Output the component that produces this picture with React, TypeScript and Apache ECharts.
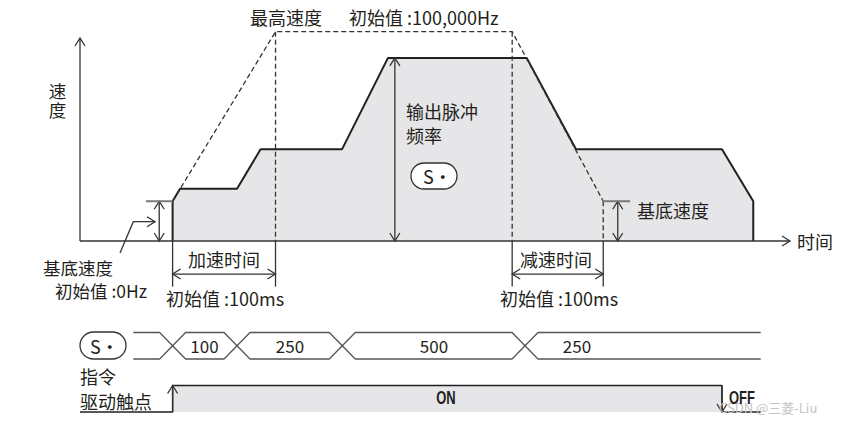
import React, { useEffect, useRef } from 'react';
import * as echarts from 'echarts';

const FONT = "'Noto Sans CJK SC', 'Noto Sans', sans-serif";
const NARROW = "'Liberation Sans', 'DejaVu Sans', sans-serif";

// ---- axes (time in ms, speed in Hz) ----
const timeMin = -90;
const timeMax = 600;
const speedTop = 97000;

// ---- output pulse frequency profile ----
const profileTime = [0, 0, 7.2, 62.6, 85.5, 164.6, 209.3, 344.1, 392.0, 533.9, 564.3, 564.3];
const profileSpeed = [0, 19000, 25000, 25000, 43800, 43800, 87500, 87500, 43800, 43800, 19000, 0];

// ---- max speed / base speed / acc & dec times ----
const baseSpeed = 19000;
const maxSpeed = 100000;
const accelEnd = 100;
const decelStart = 330;
const decelEnd = 418.5;
const maxSpeedTime = [0, accelEnd, decelStart, decelEnd];
const maxSpeedValue = [baseSpeed, maxSpeed, maxSpeed, baseSpeed];
const freqArrowTime = 216;
const freqArrowSpeed = 87500;
const baseArrowLeftTime = -13;
const baseArrowRightTime = 432.6;
const dimLineSpeed = -15800;
const extLineSpeed = -21800;

// ---- instruction bus (S·) ----
const busStart = -38.2;
const busEnd = 571.5;
const busCrossings = [0, 62.6, 164.9, 342.5];
const busLabels = ['100', '250', '500', '250'];
const busLabelTimes = [31, 114, 254, 393];

// ---- drive contact ----
const contactTime = [-90, 0, 0, 533.9, 533.9, 571.5];
const contactLevel = [0, 0, 1, 1, 0, 0];

type Guide = { pts: number[][]; s?: boolean; e?: boolean; dash?: boolean; tick?: boolean };

const guides0: Guide[] = [
  { pts: [[timeMin, 0], [timeMax, 0]], e: true },
  { pts: [[timeMin, 0], [timeMin, speedTop]], e: true },
  { pts: maxSpeedTime.map((t, i) => [t, maxSpeedValue[i]]), dash: true },
  { pts: [[accelEnd, maxSpeed], [accelEnd, 0]], dash: true },
  { pts: [[accelEnd, 0], [accelEnd, extLineSpeed]] },
  { pts: [[decelStart, maxSpeed], [decelStart, 0]], dash: true },
  { pts: [[decelStart, 0], [decelStart, extLineSpeed]] },
  { pts: [[decelEnd, baseSpeed], [decelEnd, 0]], dash: true },
  { pts: [[decelEnd, 0], [decelEnd, extLineSpeed]] },
  { pts: [[0, 0], [0, extLineSpeed]] },
  { pts: [[freqArrowTime, 0], [freqArrowTime, freqArrowSpeed]], s: true, e: true },
  { pts: [[baseArrowLeftTime, 0], [baseArrowLeftTime, baseSpeed]], s: true, e: true },
  { pts: [[-25.9, baseSpeed], [0, baseSpeed]], tick: true },
  { pts: [[baseArrowRightTime, 0], [baseArrowRightTime, baseSpeed]], s: true, e: true },
  { pts: [[decelEnd, baseSpeed], [444.6, baseSpeed]], tick: true },
  { pts: [[0, dimLineSpeed], [accelEnd, dimLineSpeed]], s: true, e: true },
  { pts: [[decelStart, dimLineSpeed], [decelEnd, dimLineSpeed]], s: true, e: true },
  { pts: [[-51.1, -5734], [-38.2, 9222], [-17.1, 9222]], e: true },
];

const guides1: Guide[] = [
  { pts: [[0, 0], [0, 1]], e: true },
  { pts: [[533.9, 1], [533.9, 0]], e: true },
];

const HALF_X = 12.6;
function busLine(level: number) {
  const pts: number[][] = [[busStart, level]];
  busCrossings.forEach((c) => {
    pts.push([c - HALF_X, level], [c, 2.5], [c + HALF_X, level]);
  });
  pts.push([busEnd, level]);
  return pts;
}

function guideSeries(specs: Guide[], idx: number) {
  return {
    type: 'custom',
    xAxisIndex: idx,
    yAxisIndex: idx,
    clip: false,
    silent: true,
    z: 4,
    data: specs.map((g, i) => [g.pts[0][0], g.pts[0][1], i]),
    encode: { x: 0, y: 1 },
    renderItem: (_p: any, api: any) => {
      const g = specs[api.value(2)];
      const p = g.pts.map((pt) => api.coord(pt));
      const stroke = g.tick ? '#7a7a7a' : '#333';
      const lw = g.tick ? 2 : 1.3;
      const children: any[] = [
        {
          type: 'polyline',
          shape: { points: p },
          style: { stroke, lineWidth: lw, fill: 'none', lineDash: g.dash ? [5, 3] : null },
        },
      ];
      const head = (tip: number[], from: number[]) => {
        const dx = tip[0] - from[0];
        const dy = tip[1] - from[1];
        const len = Math.sqrt(dx * dx + dy * dy) || 1;
        const ux = dx / len, uy = dy / len;
        const nx = -uy, ny = ux;
        const L = 8, W = 5;
        children.push({
          type: 'polyline',
          shape: {
            points: [
              [tip[0] - ux * L + nx * W, tip[1] - uy * L + ny * W],
              tip,
              [tip[0] - ux * L - nx * W, tip[1] - uy * L - ny * W],
            ],
          },
          style: { stroke: '#333', lineWidth: 1.3, fill: 'none' },
        });
      };
      if (g.e) head(p[p.length - 1], p[p.length - 2]);
      if (g.s) head(p[0], p[1]);
      return { type: 'group', children };
    },
  };
}

function txt(text: string, x: number, y: number, extra: any = {}, el: any = {}) {
  return {
    type: 'text',
    x,
    y,
    z: 20,
    ...el,
    style: {
      text,
      fontSize: 18,
      lineHeight: 18,
      fontFamily: FONT,
      fill: '#231f20',
      align: 'left',
      verticalAlign: 'middle',
      ...extra,
    },
  };
}

function pill(x: number, y: number, w: number, h: number, tx: number) {
  return [
    {
      type: 'rect',
      z: 18,
      shape: { x, y, width: w, height: h, r: h / 2 },
      style: { fill: '#fff', stroke: '#333', lineWidth: 1.3 },
    },
    txt('S·', tx, y + h / 2, { fontSize: 18 }),
  ];
}

export default function App() {
  const ref = useRef<HTMLDivElement>(null);
  useEffect(() => {
    if (!ref.current) return;
    const chart = echarts.init(ref.current, null, { renderer: 'svg' });
    const option: any = {
      animation: false,
      backgroundColor: '#fff',
      grid: [
        { left: 80, right: 53, top: 38, bottom: 180 },
        { left: 80, right: 53, top: 319.25, bottom: 9 },
      ],
      xAxis: [
        { type: 'value', gridIndex: 0, min: timeMin, max: timeMax, show: false },
        { type: 'value', gridIndex: 1, min: timeMin, max: timeMax, show: false },
      ],
      yAxis: [
        { type: 'value', gridIndex: 0, min: 0, max: speedTop, show: false },
        { type: 'value', gridIndex: 1, min: 0, max: 3.5, show: false },
      ],
      series: [
        {
          type: 'line',
          xAxisIndex: 0,
          yAxisIndex: 0,
          data: profileTime.map((t, i) => [t, profileSpeed[i]]),
          symbol: 'none',
          clip: false,
          z: 2,
          lineStyle: { color: '#231f20', width: 2 },
          areaStyle: { color: '#e6e6e8', opacity: 1 },
          silent: true,
        },
        guideSeries(guides0, 0),
        {
          type: 'line',
          xAxisIndex: 1,
          yAxisIndex: 1,
          data: busLine(3),
          symbol: 'none',
          clip: false,
          lineStyle: { color: '#555', width: 1.3 },
          silent: true,
        },
        {
          type: 'line',
          xAxisIndex: 1,
          yAxisIndex: 1,
          data: busLine(2),
          symbol: 'none',
          clip: false,
          lineStyle: { color: '#555', width: 1.3 },
          silent: true,
        },
        {
          type: 'line',
          xAxisIndex: 1,
          yAxisIndex: 1,
          data: contactTime.map((t, i) => [t, contactLevel[i]]),
          symbol: 'none',
          clip: false,
          z: 2,
          lineStyle: { color: '#231f20', width: 1.5 },
          areaStyle: { color: '#e6e6e8', opacity: 1 },
          silent: true,
        },
        guideSeries(guides1, 1),
        {
          type: 'custom',
          xAxisIndex: 1,
          yAxisIndex: 1,
          clip: false,
          silent: true,
          z: 5,
          data: busLabelTimes.map((t, i) => [t, 2.5, i]),
          encode: { x: 0, y: 1 },
          renderItem: (_p: any, api: any) => {
            const c = api.coord([api.value(0), api.value(1)]);
            return {
              type: 'text',
              x: c[0],
              y: c[1],
              style: {
                text: busLabels[api.value(2)],
                fontSize: 17,
                fontFamily: FONT,
                fill: '#231f20',
                align: 'center',
                verticalAlign: 'middle',
              },
            };
          },
        },
      ],
      graphic: [
        txt('最高速度', 250, 17),
        txt('初始值 :100,000Hz', 349, 17),
        txt('速\n度', 57.5, 100, { align: 'center', fontSize: 17.5, lineHeight: 18.5 }),
        txt('输出脉冲', 406, 111),
        txt('频率', 406, 135),
        ...pill(411, 163, 46, 26, 423),
        txt('基底速度', 637, 210),
        txt('时间', 797, 241),
        txt('基底速度', 43, 267.5, { fontSize: 17.5, lineHeight: 17.5 }),
        txt('初始值 :0Hz', 55, 290.5, { fontSize: 17.5, lineHeight: 17.5 }),
        txt('加速时间', 224, 259, { align: 'center' }),
        txt('初始值 :100ms', 166, 298),
        txt('减速时间', 556, 259, { align: 'center' }),
        txt('初始值 :100ms', 500, 298),
        ...pill(80, 332, 46, 27, 90),
        txt('指令', 80, 376),
        txt('驱动触点', 80, 401),
        txt('ON', 446, 398, { align: 'center', fontFamily: NARROW, fontWeight: 'bold', fontSize: 18 }, { scaleX: 0.72 }),
        txt('OFF', 729, 398, { fontFamily: NARROW, fontWeight: 'bold', fontSize: 18 }, { scaleX: 0.72 }),
        txt('CSDN @三菱-Liu', 719, 407, { fontSize: 13, lineHeight: 13, fill: '#c4c4c4' }, { z: 19 }),
      ],
    };
    chart.setOption(option);
    return () => chart.dispose();
  }, []);
  return (
    <div
      ref={ref}
      style={{ position: 'absolute', left: 0, top: 0, width: 843, height: 421, background: '#fff' }}
    />
  );
}
